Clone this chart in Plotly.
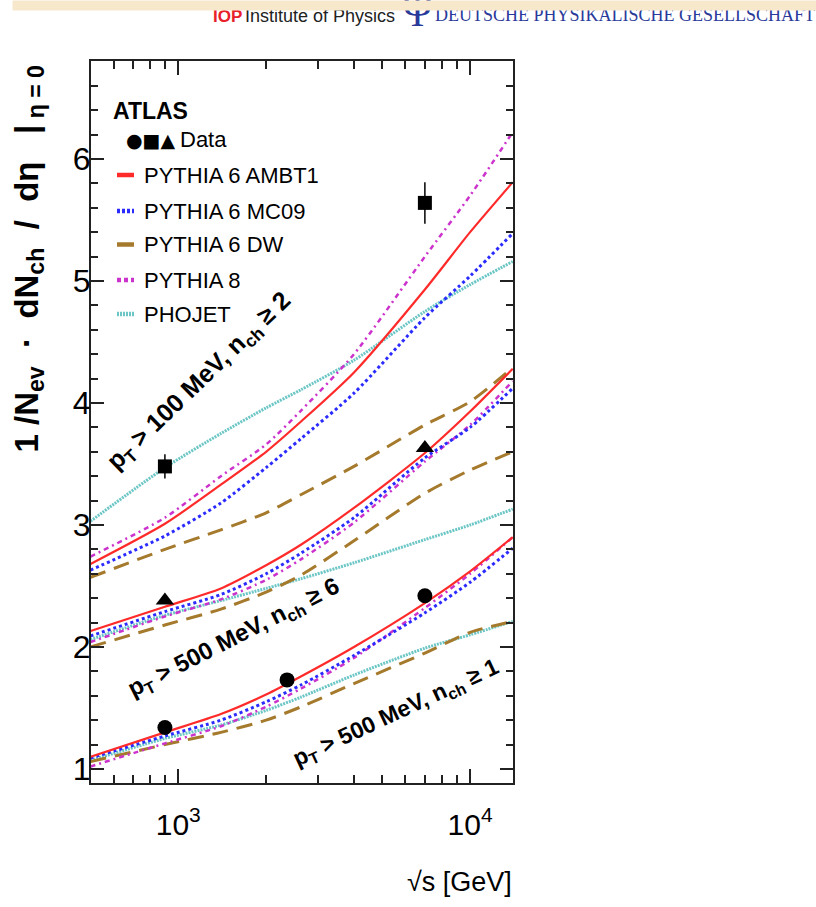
import plotly.graph_objects as go

# ---------------------------------------------------------------------------
# Charged-particle density at eta = 0 versus centre-of-mass energy
# ---------------------------------------------------------------------------
energy = [500, 900, 1400, 2000, 2640, 4000, 7000, 10000, 14000]  # sqrt(s) [GeV]

# pT > 100 MeV, nch >= 2
top_ambt1 = [2.68, 3.01, 3.33, 3.60, 3.85, 4.25, 4.93, 5.40, 5.81]
top_mc09 = [2.63, 2.91, 3.18, 3.47, 3.71, 4.08, 4.70, 5.04, 5.39]
top_dw = [2.57, 2.80, 2.96, 3.10, 3.25, 3.48, 3.82, 4.01, 4.29]
top_py8 = [2.74, 3.06, 3.40, 3.66, 3.94, 4.40, 5.20, 5.70, 6.22]
top_phojet = [3.03, 3.47, 3.75, 3.96, 4.11, 4.35, 4.75, 4.97, 5.16]

# pT > 500 MeV, nch >= 6
mid_ambt1 = [2.13, 2.33, 2.48, 2.67, 2.84, 3.14, 3.59, 3.93, 4.28]
mid_mc09 = [2.09, 2.29, 2.43, 2.60, 2.77, 3.06, 3.55, 3.80, 4.12]
mid_dw = [2.00, 2.18, 2.31, 2.45, 2.59, 2.87, 3.26, 3.45, 3.60]
mid_py8 = [2.04, 2.25, 2.39, 2.55, 2.72, 3.02, 3.52, 3.82, 4.18]
mid_phojet = [2.06, 2.26, 2.38, 2.48, 2.56, 2.69, 2.88, 3.00, 3.13]

# pT > 500 MeV, nch >= 1
low_ambt1 = [1.10, 1.30, 1.45, 1.61, 1.76, 2.00, 2.36, 2.62, 2.90]
low_mc09 = [1.09, 1.27, 1.40, 1.55, 1.69, 1.93, 2.28, 2.53, 2.81]
low_dw = [1.06, 1.20, 1.30, 1.40, 1.51, 1.70, 1.95, 2.12, 2.21]
low_py8 = [1.02, 1.21, 1.35, 1.51, 1.66, 1.91, 2.32, 2.60, 2.90]
low_phojet = [1.07, 1.25, 1.36, 1.48, 1.59, 1.77, 1.99, 2.10, 2.21]

# ATLAS measurements
data_low_e = [900, 2360, 7000]
data_low_v = [1.34, 1.73, 2.42]
data_top_e = [900, 7000]
data_top_v = [3.48, 5.64]
data_top_err = [0.10, 0.17]
data_mid_e = [900, 7000]
data_mid_v = [2.38, 3.63]

x_minor_ticks = [600, 700, 800, 900, 2000, 3000, 4000, 5000, 6000, 7000, 8000, 9000]

# ---------------------------------------------------------------------------
SANS = "Liberation Sans, Arial, Helvetica, sans-serif"
SERIF = "Liberation Serif, Times New Roman, serif"

styles = {
    "ambt1": dict(color="#ff2a2a", width=2.2, dash="solid"),
    "mc09": dict(color="#2b2bff", width=3, dash="dot"),
    "dw": dict(color="#a57a2c", width=3, dash="16px,9px"),
    "py8": dict(color="#cc33cc", width=2.5, dash="5px,4px,2px,4px"),
    "phojet": dict(color="#6cc6c6", width=3, dash="2px,1px"),
}

groups = [
    dict(ambt1=top_ambt1, mc09=top_mc09, dw=top_dw, py8=top_py8, phojet=top_phojet),
    dict(ambt1=mid_ambt1, mc09=mid_mc09, dw=mid_dw, py8=mid_py8, phojet=mid_phojet),
    dict(ambt1=low_ambt1, mc09=low_mc09, dw=low_dw, py8=low_py8, phojet=low_phojet),
]

fig = go.Figure()
draw_order = ["phojet", "dw", "py8", "mc09", "ambt1"]
for grp in groups:
    for key in draw_order:
        fig.add_trace(go.Scatter(
            x=energy, y=grp[key], mode="lines",
            line=dict(shape="spline", smoothing=0.7, **styles[key]),
            showlegend=False, hoverinfo="skip",
        ))

fig.add_trace(go.Scatter(
    x=data_top_e, y=data_top_v, mode="markers",
    marker=dict(symbol="square", size=14, color="black"),
    error_y=dict(type="data", array=data_top_err, color="black", thickness=1.5, width=0),
    showlegend=False,
))
fig.add_trace(go.Scatter(
    x=data_mid_e, y=data_mid_v, mode="markers",
    marker=dict(symbol="triangle-up", size=16, color="black"),
    showlegend=False,
))
fig.add_trace(go.Scatter(
    x=data_low_e, y=data_low_v, mode="markers",
    marker=dict(symbol="circle", size=15, color="black"),
    showlegend=False,
))

# plot-area geometry in pixels
L, R, T, B = 91, 513, 61, 783
W_FIG, H_FIG = 816, 907


def px(xp):
    return (xp - L) / (R - L)


def py(yp):
    return (B - yp) / (B - T)


ann = []
shapes = []

# legend block
ann.append(dict(x=px(111), y=py(111), xref="paper", yref="paper", xanchor="left", yanchor="middle",
                text="<b>ATLAS</b>", showarrow=False, font=dict(family=SANS, size=23, color="black")))
ann.append(dict(x=px(124), y=py(140), xref="paper", yref="paper", xanchor="left", yanchor="middle",
                text="●■▲", showarrow=False, font=dict(family="DejaVu Sans", size=19, color="black")))
ann.append(dict(x=px(178), y=py(140), xref="paper", yref="paper", xanchor="left", yanchor="middle",
                text="Data", showarrow=False, font=dict(family=SANS, size=22, color="black")))
legend_rows = [
    ("ambt1", "PYTHIA 6 AMBT1", 175),
    ("mc09", "PYTHIA 6 MC09", 211),
    ("dw", "PYTHIA 6 DW", 244.5),
    ("py8", "PYTHIA 8", 280),
    ("phojet", "PHOJET", 314),
]
stub_dash = {"ambt1": "solid", "mc09": "3px,2px", "dw": "solid", "py8": "4px,3px", "phojet": "2px,1px"}
for key, label, yrow in legend_rows:
    shapes.append(dict(type="line", xref="paper", yref="paper", x0=px(117), x1=px(134),
                       y0=py(yrow), y1=py(yrow),
                       line=dict(color=styles[key]["color"], width=4.5, dash=stub_dash[key])))
    ann.append(dict(x=px(142), y=py(yrow), xref="paper", yref="paper", xanchor="left", yanchor="middle",
                    text=label, showarrow=False, font=dict(family=SANS, size=22, color="black")))

# selection labels
sel_labels = [
    ("<b>p<sub>T</sub> > 100 MeV, n<sub>ch</sub> ≥ 2</b>", 199, 382, -44, 25),
    ("<b>p<sub>T</sub> > 500 MeV, n<sub>ch</sub> ≥ 6</b>", 234, 638, -27, 24),
    ("<b>p<sub>T</sub> > 500 MeV, n<sub>ch</sub> ≥ 1</b>", 396, 713, -25, 23),
]
for text, xp, yp, ang, fs in sel_labels:
    ann.append(dict(x=px(xp), y=py(yp), xref="paper", yref="paper", xanchor="center", yanchor="middle",
                    text=text, textangle=ang, showarrow=False,
                    font=dict(family=SANS, size=fs, color="black")))

# axis titles
ann.append(dict(x=px(28), y=py(64), xref="paper", yref="paper", xanchor="center", yanchor="top",
                text="<b>1 /N<sub>ev</sub>  ·  dN<sub>ch</sub>  /  dη   |<sub> η = 0</sub></b>",
                textangle=-90, showarrow=False, font=dict(family=SANS, size=33, color="black")))
ann.append(dict(x=px(514), y=py(882), xref="paper", yref="paper", xanchor="right", yanchor="middle",
                text="√s [GeV]", showarrow=False, font=dict(family=SANS, size=27, color="black")))

# publisher strip along the top
ann.append(dict(x=px(211), y=py(28), xref="paper", yref="paper", xanchor="left", yanchor="bottom",
                text="<b>IOP</b>", showarrow=False, font=dict(family=SANS, size=17, color="#e8202a")))
ann.append(dict(x=px(243), y=py(28), xref="paper", yref="paper", xanchor="left", yanchor="bottom",
                text="Institute of Physics", showarrow=False, font=dict(family=SANS, size=18, color="#222222")))
ann.append(dict(x=px(400), y=py(37), xref="paper", yref="paper", xanchor="left", yanchor="bottom",
                text="Ψ", showarrow=False, font=dict(family=SERIF, size=42, color="#2a3a9a")))
ann.append(dict(x=px(433), y=py(27), xref="paper", yref="paper", xanchor="left", yanchor="bottom",
                text="DEUTSCHE PHYSIKALISCHE GESELLSCHAFT", showarrow=False,
                font=dict(family=SERIF, size=18, color="#2a3a9a")))
ann.append(dict(x=px(12), y=py(0), xref="paper", yref="paper", xanchor="left", yanchor="top",
                text=" ", showarrow=False, width=804, height=9, bgcolor="#f7e8cc", borderpad=0,
                font=dict(size=4)))

fig.update_layout(
    width=W_FIG, height=H_FIG,
    margin=dict(l=L, r=W_FIG - R, t=T, b=H_FIG - B, pad=0),
    paper_bgcolor="white", plot_bgcolor="white",
    showlegend=False,
    annotations=ann, shapes=shapes,
    xaxis=dict(
        type="log", range=[2.701, 4.147],
        tickvals=[1000, 10000], ticktext=["10<sup>3</sup>", "10<sup>4</sup>"],
        ticks="inside", ticklen=14, tickwidth=1.5, tickcolor="#222",
        minor=dict(tickvals=x_minor_ticks, ticks="inside", ticklen=8, tickwidth=1.5, tickcolor="#222"),
        showline=True, linecolor="#222", linewidth=2, mirror="allticks",
        showgrid=False, zeroline=False,
        tickfont=dict(family=SANS, size=30, color="black"),
        ticklabelstandoff=14,
    ),
    yaxis=dict(
        range=[0.885, 6.803],
        tickvals=[1, 2, 3, 4, 5, 6],
        ticks="inside", ticklen=13, tickwidth=1.5, tickcolor="#222",
        minor=dict(dtick=0.2, ticks="inside", ticklen=7, tickwidth=1.5, tickcolor="#222"),
        showline=True, linecolor="#222", linewidth=2, mirror="allticks",
        showgrid=False, zeroline=False,
        tickfont=dict(family=SANS, size=32, color="black"),
        ticklabelstandoff=-8,
    ),
)

fig.write_html("out.html")
